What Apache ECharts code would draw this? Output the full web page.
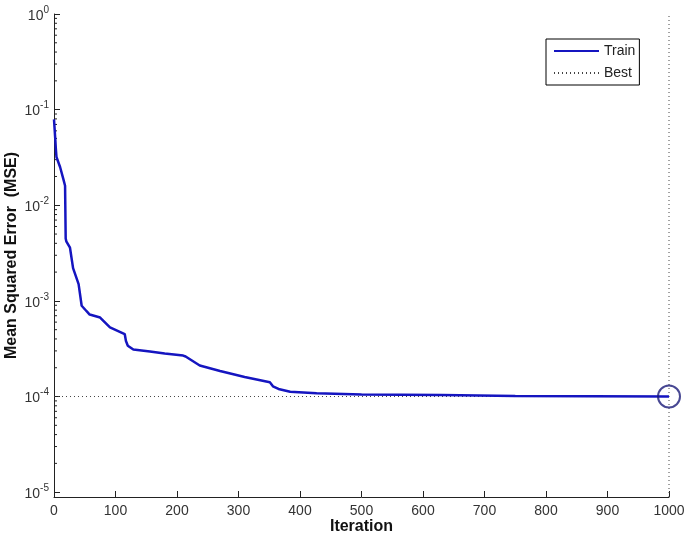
<!DOCTYPE html>
<html>
<head>
<meta charset="utf-8">
<script src="https://cdn.jsdelivr.net/npm/echarts@6/dist/echarts.min.js"></script>
<style>
html, body { margin: 0; padding: 0; background: #fff; }
#chart { width: 685px; height: 536px; }
</style>
</head>
<body>
<div id="chart"></div>
<script>
// training curve
const iterations = [0, 2, 3, 4, 10, 15, 18, 19, 20, 26, 31, 40, 45, 48, 53, 58, 75, 91, 115, 117, 120, 129, 156, 180, 210, 214, 237, 270, 310, 351, 356, 365, 384, 427, 500, 630, 632, 750, 752, 1000]
const trainMse = [0.079, 0.05, 0.039, 0.032, 0.025, 0.019, 0.016, 0.0045, 0.0042, 0.0036, 0.0022, 0.0015, 0.00089, 0.00085, 0.00078, 0.00072, 0.00067, 0.00053, 0.00045, 0.00038, 0.00034, 0.00031, 0.000296, 0.000282, 0.000268, 0.000262, 0.000211, 0.000185, 0.00016, 0.000141, 0.000128, 0.00012, 0.000112, 0.000108, 0.000105, 0.000104, 0.000102, 0.000101, 0.0001, 0.0001]

const bestEpoch = 1000
const bestMse = 0.0001

const xTicks = [0, 100, 200, 300, 400, 500, 600, 700, 800, 900, 1000]
const yDecades = [-5, -4, -3, -2, -1, 0]
const yMin = 8.9e-6
const yMax = 1

// minor ticks 2..9 in each decade
let minorTicks = []
yDecades.slice(0, -1).forEach(d => {
    for (let k = 2; k <= 9; k++) minorTicks.push(k * Math.pow(10, d))
})

const lineColor = '#1515c0'
const circleColor = '#1a1a78'
const font = '"Liberation Sans", Arial, sans-serif'

let chart = echarts.init(document.getElementById('chart'))

let trainData = iterations.map((x, i) => [x, trainMse[i]])
// horizontal and vertical "best" markers, with a gap between them
let bestData = [[0, bestMse], [bestEpoch, bestMse], '-', [bestEpoch, yMin], [bestEpoch, yMax]]

let option = {
    animation: false,
    grid: {
        left: 54,
        right: 16,
        top: 14,
        bottom: 39,
        outerBoundsMode: 'none',
        containLabel: false
    },
    legend: {
        data: ['Train', 'Best'],
        orient: 'vertical',
        left: 546,
        top: 39,
        padding: [5, 4, 5, 7],
        itemWidth: 45,
        itemHeight: 14,
        itemGap: 8,
        borderColor: '#000',
        borderWidth: 1,
        backgroundColor: '#fff',
        itemStyle: { opacity: 0, borderWidth: 0 },
        textStyle: {
            fontFamily: font,
            fontSize: 14,
            color: '#222'
        }
    },
    xAxis: {
        type: 'value',
        min: 0,
        max: 1000,
        interval: 100,
        name: 'Iteration',
        nameLocation: 'middle',
        nameGap: 22,
        nameMoveOverlap: false,
        nameTextStyle: {
            fontFamily: font,
            fontSize: 16,
            fontWeight: 'bold',
            color: '#111'
        },
        axisLine: { show: true, onZero: false, lineStyle: { color: '#222', width: 1 } },
        axisTick: { show: true, inside: true, length: 6, lineStyle: { color: '#222' } },
        axisLabel: {
            fontFamily: font,
            fontSize: 14,
            color: '#333',
            margin: 7,
            formatter: v => xTicks.includes(v) ? String(v) : ''
        },
        splitLine: { show: false }
    },
    yAxis: {
        type: 'log',
        logBase: 10,
        min: yMin,
        max: yMax,
        name: 'Mean Squared Error  (MSE)',
        nameLocation: 'middle',
        nameGap: 34,
        nameMoveOverlap: false,
        nameTextStyle: {
            fontFamily: font,
            fontSize: 16,
            fontWeight: 'bold',
            color: '#111'
        },
        axisLine: { show: true, lineStyle: { color: '#222', width: 1 } },
        axisTick: { show: true, inside: true, length: 6, lineStyle: { color: '#222' } },
        axisLabel: {
            margin: 5,
            formatter: v => {
                let e = Math.log10(v)
                let r = Math.round(e)
                if (Math.abs(e - r) > 1e-6 || !yDecades.includes(r)) return ''
                return '{b|10}{s|' + r + '}'
            },
            rich: {
                b: { fontFamily: font, fontSize: 14, color: '#333', verticalAlign: 'bottom', lineHeight: 16 },
                s: { fontFamily: font, fontSize: 10, color: '#333', verticalAlign: 'top', padding: [0, 0, 8, 0] }
            }
        },
        splitLine: { show: false }
    },
    series: [
        {
            name: 'Train',
            type: 'line',
            data: trainData,
            showSymbol: false,
            symbol: 'none',
            smooth: false,
            z: 3,
            lineStyle: { color: lineColor, width: 2.5 },
            itemStyle: { color: lineColor }
        },
        {
            name: 'Best',
            type: 'line',
            data: bestData,
            symbol: 'none',
            connectNulls: false,
            z: 2,
            lineStyle: { color: '#444', width: 1, type: [1, 3] },
            itemStyle: { color: '#444' }
        },
        {
            name: 'BestPoint',
            type: 'scatter',
            data: [[bestEpoch, bestMse]],
            symbol: 'circle',
            symbolSize: 22,
            z: 4,
            itemStyle: { color: 'rgba(0,0,0,0)', borderColor: circleColor, borderWidth: 2 }
        },
        {
            name: 'MinorTicks',
            type: 'custom',
            data: minorTicks.map(v => [0, v]),
            silent: true,
            renderItem: (params, api) => {
                let p = api.coord([0, api.value(1)])
                return {
                    type: 'line',
                    shape: { x1: p[0], y1: p[1], x2: p[0] + 3, y2: p[1] },
                    style: { stroke: '#222', lineWidth: 1 }
                }
            }
        }
    ]
}

chart.setOption(option)
</script>
</body>
</html>
